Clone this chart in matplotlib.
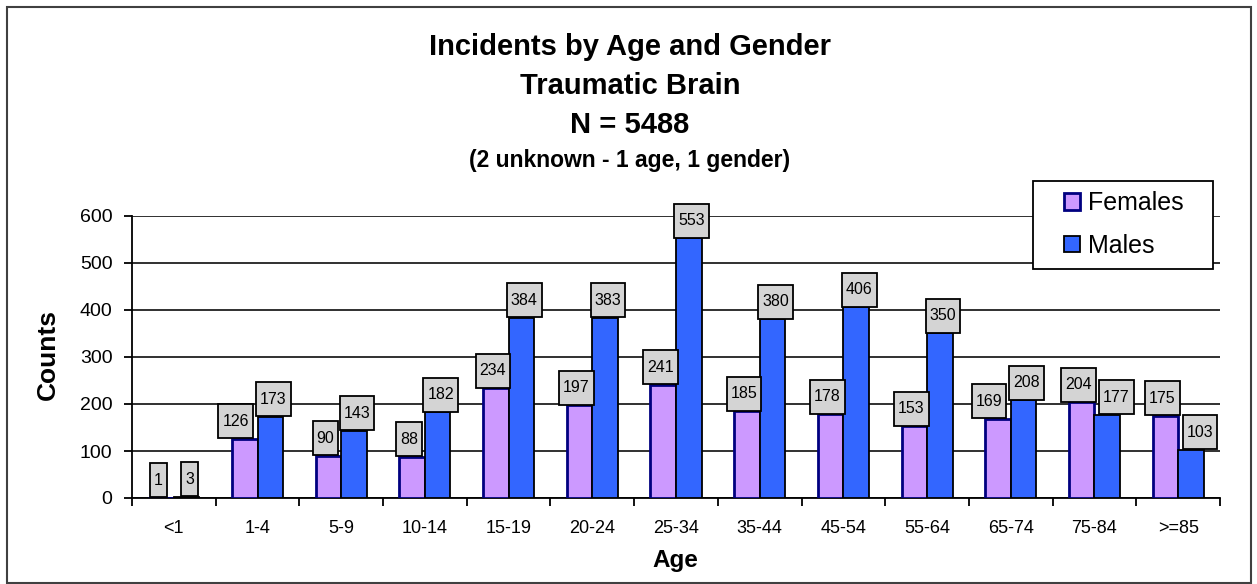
import matplotlib
matplotlib.use("Agg")
import matplotlib.pyplot as plt
import numpy as np
from matplotlib.path import Path
from matplotlib.patches import Rectangle

categories = ["<1", "1-4", "5-9", "10-14", "15-19", "20-24", "25-34",
              "35-44", "45-54", "55-64", "65-74", "75-84", ">=85"]
females = [1, 126, 90, 88, 234, 197, 241, 185, 178, 153, 169, 204, 175]
males = [3, 173, 143, 182, 384, 383, 553, 380, 406, 350, 208, 177, 103]
yticks = [0, 100, 200, 300, 400, 500, 600]

plt.rcParams["font.family"] = ["Liberation Sans", "DejaVu Sans"]

W, H = 1257, 584
fig = plt.figure(figsize=(W / 100, H / 100), dpi=100)
fig.patch.set_facecolor("white")

# outer chart border
fig.patches.append(Rectangle((7 / W, 0.002), 1244 / W, 1 - 8 / H, transform=fig.transFigure,
                             fill=False, edgecolor="#404040", lw=1.5))

ax = fig.add_axes([132 / W, 1 - 498 / H, (1220 - 132) / W, (498 - 216) / H])
x = np.arange(len(categories))
bw = 0.305
ax.bar(x - bw / 2, females, bw, color="#CC99FF", edgecolor="#000080", lw=2, label="Females", zorder=3)
ax.bar(x + bw / 2, males, bw, color="#3366FF", edgecolor="black", lw=1.3, label="Males", zorder=3)

ax.set_xlim(-0.5, len(categories) - 0.5)
ax.set_ylim(0, 600)
ax.set_yticks(yticks)
ax.set_yticklabels([str(v) for v in yticks], fontsize=14)
ax.set_xticks(x)
ax.set_xticklabels(categories, fontsize=13)
ax.tick_params(axis="x", length=0, pad=16)
ax.set_xticks(np.arange(len(categories) + 1) - 0.5, minor=True)
ax.tick_params(axis="x", which="minor", length=6, width=1.3, direction="out")
ax.tick_params(axis="y", length=6, width=1.3, direction="out", pad=8)
ax.grid(axis="y", color="#202020", lw=1.3, zorder=0)
for s in ["top", "right"]:
    ax.spines[s].set_visible(False)
ax.spines["left"].set_linewidth(1.3)
ax.spines["bottom"].set_linewidth(1.3)

ax.set_ylabel("Counts", fontsize=19, fontweight="bold")
ax.yaxis.set_label_coords(48 / W, 1 - 355 / H, transform=fig.transFigure)
ax.set_xlabel("Age", fontsize=17.5, fontweight="bold")
ax.xaxis.set_label_coords(675 / W, 1 - 560 / H, transform=fig.transFigure)
ax.xaxis.label.set_va("center")
ax.yaxis.label.set_va("center")


def label_box(x0, y0, width, height, mutation_size):
    px, py = 4.0, 9.5
    x0 -= px
    y0 -= py
    x1 = x0 + width + 2 * px
    y1 = y0 + height + 2 * py
    return Path([(x0, y0), (x1, y0), (x1, y1), (x0, y1), (x0, y0)],
                [Path.MOVETO, Path.LINETO, Path.LINETO, Path.LINETO, Path.CLOSEPOLY])


bbox = dict(boxstyle=label_box, facecolor="#D4D4D4", edgecolor="black", lw=1.3)
pairs = []
for i in range(len(categories)):
    anns = []
    for val, dx, sh in ((females[i], -bw / 2, -3), (males[i], bw / 2, 3)):
        a = ax.annotate(str(val), (x[i] + dx, val), xytext=(sh, 10), textcoords="offset pixels",
                        ha="center", va="bottom", fontsize=11.5,
                        bbox=bbox, zorder=5, annotation_clip=False)
        anns.append(a)
    pairs.append(anns)

# push overlapping label boxes apart (lower box moves outward)
fig.canvas.draw()
r = fig.canvas.get_renderer()
for i, (fa, ma) in enumerate(pairs):
    fb = fa.get_bbox_patch().get_window_extent(r)
    mb = ma.get_bbox_patch().get_window_extent(r)
    ov_x = fb.x1 - mb.x0
    ov_y = min(fb.y1, mb.y1) - max(fb.y0, mb.y0)
    if ov_x > 0 and ov_y > 0:
        shift = ov_x + 3
        if females[i] < males[i]:
            fa.xyann = (fa.xyann[0] - shift, fa.xyann[1])
        else:
            ma.xyann = (ma.xyann[0] + shift, ma.xyann[1])

# legend frame
ax.add_patch(Rectangle((1033 / W, 1 - 269 / H), 180 / W, 88 / H, transform=fig.transFigure,
                       facecolor="white", edgecolor="black", lw=1.3, zorder=9, clip_on=False))
leg = ax.legend(loc="upper left", bbox_to_anchor=(1064 / W, 1 - 191 / H),
                bbox_transform=fig.transFigure, fontsize=18, frameon=False,
                handlelength=0.65, handleheight=0.65, handletextpad=0.3,
                borderpad=0, labelspacing=0.75, borderaxespad=0)
leg.set_zorder(10)

fig.text(0.501, 1 - 47 / H, "Incidents by Age and Gender", ha="center", va="center",
         fontsize=21, fontweight="bold")
fig.text(0.501, 1 - 86 / H, "Traumatic Brain", ha="center", va="center",
         fontsize=21, fontweight="bold")
fig.text(0.501, 1 - 125 / H, "N = 5488", ha="center", va="center",
         fontsize=21, fontweight="bold")
fig.text(0.501, 1 - 161 / H, "(2 unknown - 1 age, 1 gender)", ha="center", va="center",
         fontsize=16.5, fontweight="bold")

fig.savefig("out.png", dpi=100)
